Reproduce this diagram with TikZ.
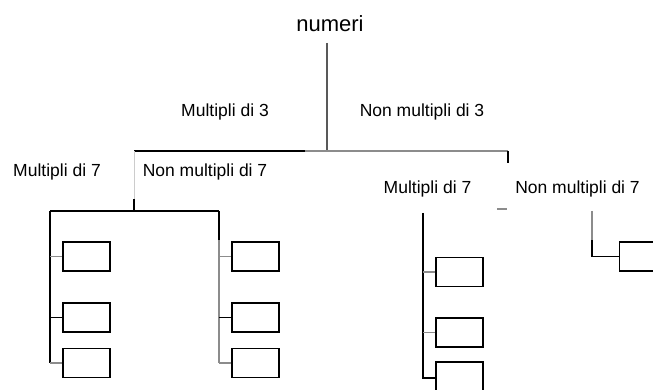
\documentclass[tikz,border=0pt]{standalone}
\usepackage{fontspec}
\setmainfont{Liberation Sans}
\begin{document}
\begin{tikzpicture}[x=1pt,y=-1pt,
  lab/.style={anchor=base,inner sep=0pt,font=\fontsize{17.5}{20}\selectfont},
  big/.style={anchor=base,inner sep=0pt,font=\fontsize{22}{26}\selectfont},
  box/.style={draw=black,fill=white,line width=1.8pt,inner sep=0pt,minimum width=47pt,minimum height=29pt},
  blk/.style={draw=black,line width=1.8pt},
  gry/.style={draw=black!45,line width=1.8pt},
  dgry/.style={draw=black!65,line width=1.5pt},
  fnt/.style={draw=black!20,line width=1pt}]
\useasboundingbox (0,0) rectangle (653,390);
\clip (0,0) rectangle (653,390);
% labels
\node[big] (num) at (330,32) {numeri};
\node[lab] (m3) at (225,117) {Multipli di 3};
\node[lab] (n3) at (422,117) {Non multipli di 3};
\node[lab] (m7a) at (57,177) {Multipli di 7};
\node[lab] (n7a) at (205,177) {Non multipli di 7};
\node[lab] (m7b) at (427.5,194) {Multipli di 7};
\node[lab] (n7b) at (577.5,194) {Non multipli di 7};
% junction coordinates
\coordinate (top) at (327,43);
\coordinate (jc) at (327,151);
\coordinate (hl) at (134,151);
\coordinate (hm) at (305,151);
\coordinate (hr) at (508,151);
\coordinate (hrt) at (508,163);
\coordinate (lj) at (134,211);
\coordinate (ljm) at (134,199);
\coordinate (gl) at (50,211);
\coordinate (gr) at (219,211);
\coordinate (grm) at (219,240);
\coordinate (mv) at (423,213);
\coordinate (c3j) at (423,378);
\coordinate (dsa) at (497,209);
\coordinate (dsb) at (507,209);
\coordinate (rv) at (592,211);
\coordinate (rvm) at (592,240);
% boxes
\node[box] (a1) at (86.5,256.5) {};
\node[box] (a2) at (86.5,317.5) {};
\node[box] (a3) at (86.5,363) {};
\node[box] (b1) at (255.5,256.5) {};
\node[box] (b2) at (255.5,317.5) {};
\node[box] (b3) at (255.5,363) {};
\node[box] (c1) at (459.5,272) {};
\node[box] (c2) at (459.5,332.5) {};
\node[box,minimum height=40pt] (c3) at (459.5,382) {};
\node[box] (d1) at (643,256.5) {};
% tree lines
\draw[dgry] (top) -- (jc);
\draw[blk] (hl) -- (hm);
\draw[gry] (hm) -- (hr);
\draw[blk] (hr) -- (hrt);
\draw[fnt] (hl) -- (ljm);
\draw[blk] (ljm) -- (lj);
\draw[blk] (gl) -- (gr);
% left group
\draw[blk] (gl) -- (gl |- a3.west);
\draw[gry] (a1.west) -- (a1.west -| gl);
\draw[blk] (a2.west) -- (a2.west -| gl);
\draw[gry] (a3.west) -- (a3.west -| gl);
% second group
\draw[blk] (gr) -- (grm);
\draw[gry] (grm) -- (grm |- b3.west);
\draw[gry] (b1.west) -- (b1.west -| gr);
\draw[blk] (b2.west) -- (b2.west -| gr);
\draw[gry] (b3.west) -- (b3.west -| gr);
% third group
\draw[blk] (mv) -- (c3j) -- (c3j -| c3.west);
\draw[gry] (c1.west) -- (c1.west -| mv);
\draw[gry] (c2.west) -- (c2.west -| mv);
\draw[gry] (dsa) -- (dsb);
% fourth
\draw[gry] (rv) -- (rvm);
\draw[blk] (rvm) -- (rvm |- d1.west) -- (d1.west);
\end{tikzpicture}
\end{document}
